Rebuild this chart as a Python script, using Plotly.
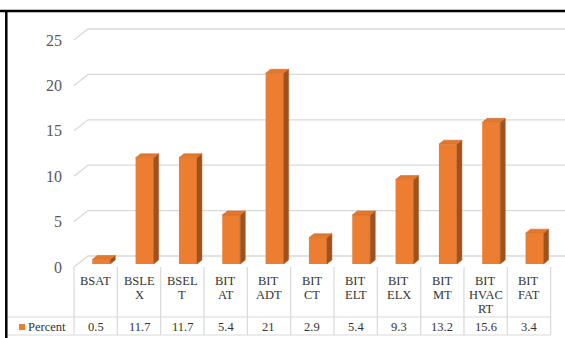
import plotly.graph_objects as go

# ---- data -------------------------------------------------------------
categories = ["BSAT", "BSLEX", "BSELT", "BITAT", "BITADT", "BITCT",
              "BITELT", "BITELX", "BITMT", "BITHVACRT", "BITFAT"]
header_lines = [["BSAT"], ["BSLE", "X"], ["BSEL", "T"], ["BIT", "AT"],
                ["BIT", "ADT"], ["BIT", "CT"], ["BIT", "ELT"], ["BIT", "ELX"],
                ["BIT", "MT"], ["BIT", "HVAC", "RT"], ["BIT", "FAT"]]
values = [0.5, 11.7, 11.7, 5.4, 21, 2.9, 5.4, 9.3, 13.2, 15.6, 3.4]
value_labels = ["0.5", "11.7", "11.7", "5.4", "21", "2.9", "5.4", "9.3",
                "13.2", "15.6", "3.4"]
y_ticks = [0, 5, 10, 15, 20, 25]
series_name = "Percent"

# ---- geometry (category units on x, value units on y) ----------------
W, H = 565, 338
PX_U = 43.33          # pixels per category slot
PX_V = 9.08           # pixels per value unit
X0, Y0 = 74, 267      # pixel position of category 0 / value 0 (front plane)

x_range = [-X0 / PX_U, (W - X0) / PX_U]
y_range = [-(H - Y0) / PX_V, Y0 / PX_V]


def u(px):
    return (px - X0) / PX_U


def v(py):
    return (Y0 - py) / PX_V


DEPTH_DX = 14 / PX_U   # front plane -> back wall
DEPTH_DY = 11 / PX_V
BAR_SHIFT = 5.6 / PX_U
BAR_BASE = 3 / PX_V
BAR_W = 18 / PX_U
SIDE_DX = 5 / PX_U
SIDE_DY = 4 / PX_V

ORANGE = "#ED7D31"
SIDE = "#A0521D"
TOP = "#E5772C"
GRID = "#D9D9D9"
TEXT = "#333333"
FONT = "Liberation Serif"

n = len(categories)
centers = [i + 0.5 + BAR_SHIFT for i in range(n)]

fig = go.Figure()

shapes = []

# back-wall gridlines with their depth diagonals (kept behind the columns)
for t in y_ticks:
    shapes.append(dict(type="path", xref="x", yref="y", layer="below",
                       path=f"M 0 {t} L {DEPTH_DX} {t + DEPTH_DY} "
                            f"L {x_range[1]} {t + DEPTH_DY}",
                       line=dict(color=GRID, width=1.3)))

# front faces of the columns
fig.add_trace(go.Bar(x=centers, y=values, base=BAR_BASE, width=BAR_W,
                     marker=dict(color=ORANGE, line=dict(width=0)),
                     name=series_name, showlegend=False))

# side and top faces
sx, sy, tx, ty = [], [], [], []
for c, val in zip(centers, values):
    xl, xr = c - BAR_W / 2, c + BAR_W / 2
    top = BAR_BASE + val
    sx += [xr, xr, xr + SIDE_DX, xr + SIDE_DX, xr, None]
    sy += [BAR_BASE, top, top + SIDE_DY, BAR_BASE + SIDE_DY, BAR_BASE, None]
    tx += [xl, xr, xr + SIDE_DX, xl + SIDE_DX, xl, None]
    ty += [top, top, top + SIDE_DY, top + SIDE_DY, top, None]
fig.add_trace(go.Scatter(x=sx, y=sy, mode="lines", fill="toself",
                         fillcolor=SIDE, line=dict(color=SIDE, width=0.5),
                         hoverinfo="skip", showlegend=False))
fig.add_trace(go.Scatter(x=tx, y=ty, mode="lines", fill="toself",
                         fillcolor=TOP, line=dict(color="#C8651F", width=0.5),
                         hoverinfo="skip", showlegend=False))

# ---- data table ------------------------------------------------------
tbl_top, tbl_mid, tbl_bot = v(267), v(317), v(335)
for k in range(n + 1):
    shapes.append(dict(type="line", xref="x", yref="y", x0=k, x1=k,
                       y0=tbl_top, y1=tbl_bot,
                       line=dict(color=GRID, width=1.2)))
for yy in (tbl_mid, tbl_bot):
    shapes.append(dict(type="line", xref="x", yref="y", x0=u(8), x1=n,
                       y0=yy, y1=yy, line=dict(color=GRID, width=1.2)))

# legend key square
shapes.append(dict(type="rect", xref="x", yref="y",
                   x0=u(19), x1=u(25), y0=v(324), y1=v(330),
                   fillcolor=ORANGE, line=dict(width=0)))

# outer frame (top and left edges)
shapes.append(dict(type="line", xref="paper", yref="paper",
                   x0=0, x1=1, y0=1 - 11 / H, y1=1 - 11 / H,
                   line=dict(color="#000000", width=2.5)))
shapes.append(dict(type="line", xref="paper", yref="paper",
                   x0=6.3 / W, x1=6.3 / W, y0=0, y1=1 - 10 / H,
                   line=dict(color="#000000", width=2.5)))

annotations = []
line_y = [281, 295, 309]
for i, lines in enumerate(header_lines):
    for j, txt in enumerate(lines):
        annotations.append(dict(x=i + 0.5, y=v(line_y[j]), xref="x", yref="y",
                                text=txt, showarrow=False,
                                xanchor="center", yanchor="middle",
                                font=dict(family=FONT, size=12.5, color=TEXT)))
for i, lab in enumerate(value_labels):
    annotations.append(dict(x=i + 0.5, y=v(326.5), xref="x", yref="y",
                            text=lab, showarrow=False,
                            xanchor="center", yanchor="middle",
                            font=dict(family=FONT, size=12.5, color=TEXT)))
annotations.append(dict(x=u(26), y=v(326.5), xref="x", yref="y",
                        text=series_name, showarrow=False,
                        xanchor="left", yanchor="middle",
                        font=dict(family=FONT, size=12.5, color=TEXT)))

fig.update_layout(
    width=W, height=H,
    margin=dict(l=0, r=0, t=0, b=0),
    paper_bgcolor="white", plot_bgcolor="white",
    xaxis=dict(range=x_range, visible=False, fixedrange=True),
    yaxis=dict(range=y_range, anchor="free", position=62 / W,
               tickvals=y_ticks, ticks="", showgrid=False, zeroline=False,
               showline=False,
               tickfont=dict(family=FONT, size=16, color="#595959")),
    shapes=shapes,
    annotations=annotations,
    showlegend=False,
)

fig.write_html("out.html")
